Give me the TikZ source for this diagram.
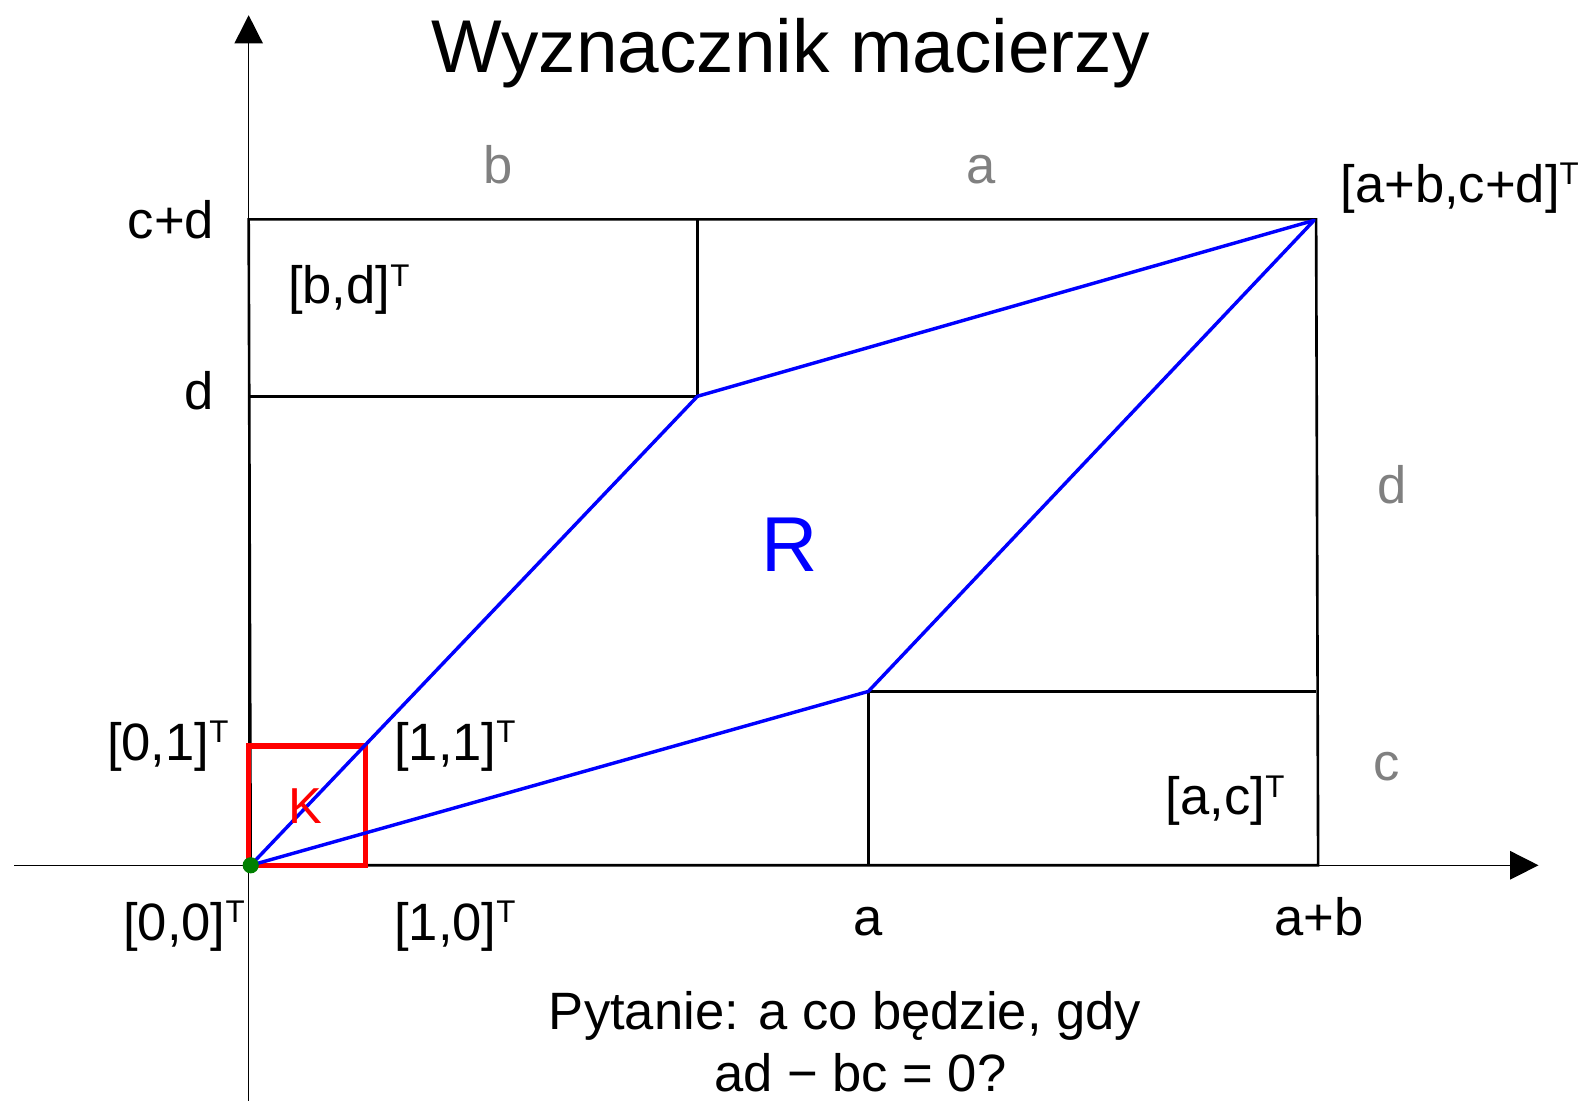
\documentclass[tikz,border=0pt]{standalone}
\usepackage{fontspec}
\setmainfont{Liberation Sans}
\usetikzlibrary{arrows.meta}
\newcommand\Tsup{\raisebox{17pt}{\fontsize{31}{31}\selectfont T}}
\begin{document}
\begin{tikzpicture}[x=1pt,y=-1pt,
  lbl/.style={font=\fontsize{52}{60}\selectfont, inner sep=0pt, anchor=base},
  glbl/.style={lbl, text=black!50},
  frame/.style={line width=2.6pt, black},
  axis/.style={line width=1.5pt, black, -{Triangle[length=28pt,width=28pt]}},
  par/.style={line width=3.4pt, blue, line join=round},
  sq/.style={line width=5pt, red, line join=miter}]
\useasboundingbox (0,0) rectangle (1568,1089);
% coordinates
\coordinate (O) at (248,856);
\coordinate (xs) at (14,856);
\coordinate (xe) at (1522,856);
\coordinate (ys) at (246,1089);
\coordinate (ye) at (246,15);
\coordinate (TL) at (246,217);
\coordinate (TR) at (1302,217);
\coordinate (BR) at (1304,856);
\coordinate (DL) at (246,392);
\coordinate (B) at (690,392);
\coordinate (Btop) at (690,217);
\coordinate (A) at (859,684);
\coordinate (Abot) at (859,856);
\coordinate (AR) at (1302,684);
\coordinate (S) at (1300,218);
\coordinate (P01) at (246,738);
\coordinate (P10) at (362,856);
% axes
\draw[axis] (xs) -- (xe);
\draw[axis] (ys) -- (ye);
% frame
\draw[frame] (TL) -- (TR) -- (BR) -- (O) -- cycle;
\draw[frame] (DL) -- (B) -- (Btop);
\draw[frame] (Abot) -- (A) -- (AR);
% unit square
\draw[sq] (P01) rectangle (P10);
% parallelogram
\draw[par] (O) -- (B) -- (S) -- (A) -- cycle;
\fill[green!50!black] (O) circle (8pt);
% texts
\node[lbl, font=\fontsize{74}{80}\selectfont] (title) at (782,72) {Wyznacznik macierzy};
\node[lbl, anchor=base east] (cd) at (212,236) {c+d};
\node[lbl, anchor=base east] (d) at (212,405) {d};
\node[lbl] (l01) at (166,752) {[0,1]\Tsup};
\node[lbl] (l00) at (182,930) {[0,0]\Tsup};
\node[lbl] (l10) at (450,930) {[1,0]\Tsup};
\node[lbl] (l11) at (450,752) {[1,1]\Tsup};
\node[lbl] (la) at (859,925) {a};
\node[lbl] (lab) at (1305,925) {a+b};
\node[lbl, text=red, font=\fontsize{50}{60}\selectfont] (K) at (302,815) {K};
\node[lbl, text=blue, font=\fontsize{77}{80}\selectfont] (R) at (781,565) {R};
\node[lbl] (lbd) at (345,300) {[b,d]\Tsup};
\node[lbl] (lac) at (1212,806) {[a,c]\Tsup};
\node[lbl] (ls) at (1444,200) {[a+b,c+d]\Tsup};
\node[glbl] (gb) at (493,182) {b};
\node[glbl] (ga) at (971,182) {a};
\node[glbl] (gd) at (1377,498) {d};
\node[glbl] (gc) at (1372,772) {c};
\node[lbl] (q1) at (836,1018) {Pytanie: a co będzie, gdy};
\node[lbl] (q2) at (851,1080) {ad − bc = 0?};
\end{tikzpicture}
\end{document}
